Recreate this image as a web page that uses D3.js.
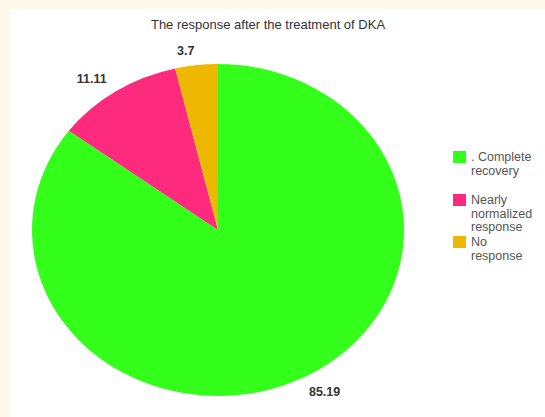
<!DOCTYPE html>
<html>
<head>
<meta charset="utf-8">
<script src="https://cdn.jsdelivr.net/npm/d3@7"></script>
<style>
  body { margin: 0; background: #fdf9e8; }
  svg { display: block; }
</style>
</head>
<body>
<svg id="chart" width="545" height="417"></svg>
<script>
const categories = [". Complete recovery", "Nearly normalized response", "No response"];
const legendLines = [[". Complete", "recovery"], ["Nearly", "normalized", "response"], ["No", "response"]];
const values = [85.19, 11.11, 3.7];
const labels = ["85.19", "11.11", "3.7"];
const colors = ["#33ff1a", "#fe2a7d", "#efb800"];

const svg = d3.select("#chart");

// white panel
svg.append("rect")
    .attr("x", 10).attr("y", 9)
    .attr("width", 535).attr("height", 408)
    .attr("fill", "#ffffff");

svg.append("text")
    .attr("x", 268).attr("y", 29)
    .attr("text-anchor", "middle")
    .attr("font-family", "Liberation Sans, Arial, sans-serif")
    .attr("font-size", 13)
    .attr("fill", "#333")
    .text("The response after the treatment of DKA");

const cx = 218, cy = 230, rx = 186, ry = 166;
const color = d3.scaleOrdinal().domain(categories).range(colors);

const pie = d3.pie().sort(null).value(d => d.value);
const data = categories.map((c, i) => ({name: c, value: values[i], label: labels[i]}));
const arcs = pie(data);

const arc = d3.arc().innerRadius(0).outerRadius(rx);

const g = svg.append("g")
    .attr("transform", `translate(${cx},${cy}) scale(1,${ry / rx})`);

g.selectAll("path")
    .data(arcs)
    .join("path")
    .attr("d", arc)
    .attr("fill", d => color(d.data.name));

// value labels just outside the rim
const k = 1.09;
svg.append("g")
    .selectAll("text")
    .data(arcs)
    .join("text")
    .each(function(d) {
        const a = (d.startAngle + d.endAngle) / 2;
        const x = cx + k * rx * Math.sin(a);
        const y = cy - k * ry * Math.cos(a);
        d3.select(this)
            .attr("x", x)
            .attr("y", y)
            .attr("dy", "0.35em")
            .attr("text-anchor", Math.sin(a) < 0 ? "end" : "start");
    })
    .attr("font-family", "Liberation Sans, Arial, sans-serif")
    .attr("font-size", 12.5)
    .attr("font-weight", "bold")
    .attr("fill", "#333")
    .text(d => d.data.label);

// legend
const legendY = [151, 194, 236];
const legend = svg.append("g")
    .attr("font-family", "Liberation Sans, Arial, sans-serif")
    .attr("font-size", 12.5)
    .selectAll("g")
    .data(categories)
    .join("g")
    .attr("transform", (d, i) => `translate(453,${legendY[i]})`);

legend.append("rect")
    .attr("width", 13)
    .attr("height", 12)
    .attr("fill", color);

legend.append("text")
    .attr("x", 18)
    .attr("y", 10)
    .attr("fill", "#555")
    .selectAll("tspan")
    .data((d, i) => legendLines[i])
    .join("tspan")
    .attr("x", 18)
    .attr("dy", (d, i) => i === 0 ? 0 : 13.5)
    .text(d => d);
</script>
</body>
</html>
